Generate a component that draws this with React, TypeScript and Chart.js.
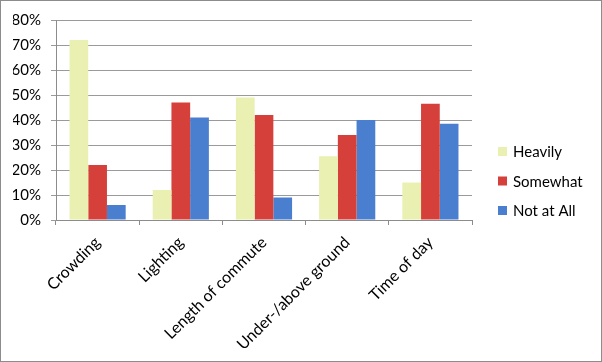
import { useEffect, useRef } from 'react';
import { Chart, registerables } from 'chart.js';

Chart.register(...registerables);

const categories = ['Crowding', 'Lighting', 'Length of commute', 'Under-/above ground', 'Time of day'];
const seriesNames = ['Heavily', 'Somewhat', 'Not at All'];
const heavily = [72, 12, 49, 25.5, 15];
const somewhat = [22, 47, 42, 34, 46.5];
const notAtAll = [6, 41, 9, 40, 38.5];
const yMax = 80;
const yStep = 10;

const colors = ['#eaf0b2', '#d6403a', '#4a7ecf'];
const FONT = 'Lato, "Liberation Sans", sans-serif';

const sideLegend = {
  id: 'sideLegend',
  afterDraw(chart: any) {
    const { ctx, chartArea } = chart;
    const x = chartArea.right + 26;
    const mid = chart.height / 2;
    ctx.save();
    ctx.font = `15px ${FONT}`;
    ctx.textBaseline = 'middle';
    ctx.textAlign = 'left';
    chart.data.datasets.forEach((ds: any, i: number) => {
      const cy = mid + (i - 1) * 29.5;
      ctx.fillStyle = ds.backgroundColor;
      ctx.fillRect(x, cy - 4.5, 9, 9);
      ctx.fillStyle = '#000';
      ctx.fillText(ds.label, x + 15, cy + 1);
    });
    ctx.restore();
  },
};

export default function App() {
  const ref = useRef<HTMLCanvasElement>(null);

  useEffect(() => {
    if (!ref.current) return;
    const values = [heavily, somewhat, notAtAll];
    const chart = new Chart(ref.current, {
      type: 'bar',
      data: {
        labels: categories,
        datasets: seriesNames.map((name, i) => ({
          label: name,
          data: values[i],
          backgroundColor: colors[i],
          borderWidth: 0,
          categoryPercentage: 0.675,
          barPercentage: 1,
        })),
      },
      options: {
        animation: false,
        responsive: false,
        layout: { padding: { left: 12, right: 129, top: 19, bottom: 0 } },
        plugins: {
          legend: { display: false },
          tooltip: { enabled: false },
        },
        scales: {
          x: {
            grid: {
              display: true,
              drawOnChartArea: false,
              drawTicks: true,
              tickLength: 5,
              offset: true,
              color: '#8c8c8c',
            },
            border: { color: '#8c8c8c' },
            ticks: {
              minRotation: 45,
              maxRotation: 45,
              padding: 8,
              color: '#000',
              font: { family: FONT, size: 16 },
            },
            afterFit: (scale: any) => {
              scale.height = 141;
            },
          },
          y: {
            min: 0,
            max: yMax,
            ticks: {
              stepSize: yStep,
              padding: 10,
              color: '#000',
              font: { family: FONT, size: 15 },
              callback: (v: any) => `${v}%`,
            },
            grid: {
              color: '#9a9a9a',
              tickLength: 5,
              drawTicks: true,
            },
            border: { color: '#8c8c8c' },
            afterFit: (scale: any) => {
              scale.width = 43;
            },
          },
        },
      },
      plugins: [sideLegend],
    });
    return () => chart.destroy();
  }, []);

  return (
    <div
      style={{
        position: 'absolute',
        left: 0,
        top: 0,
        width: 602,
        height: 362,
        boxSizing: 'border-box',
        border: '1px solid #8c8c8c',
        background: '#fff',
      }}
    >
      <canvas ref={ref} width={600} height={360} style={{ display: 'block' }} />
    </div>
  );
}
